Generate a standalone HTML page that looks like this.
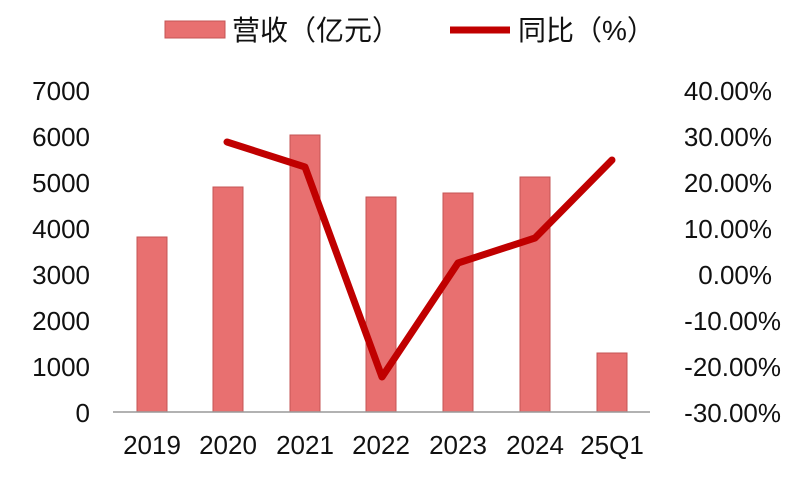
<!DOCTYPE html>
<html><head><meta charset="utf-8"><style>
body{margin:0;background:#fff;width:800px;height:472px;overflow:hidden}
text{font-family:"Liberation Sans","Noto Sans CJK SC",sans-serif;fill:#111}
</style></head><body>
<svg width="800" height="472" xmlns="http://www.w3.org/2000/svg">
<rect x="165" y="21" width="60" height="17" fill="#e87070" stroke="#c45555"/>
<text x="232" y="40" font-size="28">营收（亿元）</text>
<line x1="450" y1="30" x2="510" y2="30" stroke="#c00000" stroke-width="7"/>
<text x="518" y="40" font-size="28">同比（%）</text>
<g font-size="26" text-anchor="end">
<text x="90" y="100">7000</text><text x="90" y="146">6000</text><text x="90" y="192">5000</text>
<text x="90" y="238">4000</text><text x="90" y="284">3000</text><text x="90" y="330">2000</text>
<text x="90" y="376">1000</text><text x="90" y="422">0</text>
</g>
<g font-size="26" text-anchor="end">
<text x="772" y="100">40.00%</text><text x="772" y="146">30.00%</text><text x="772" y="192">20.00%</text>
<text x="772" y="238">10.00%</text><text x="772" y="284">0.00%</text><text x="781" y="330">-10.00%</text>
<text x="781" y="376">-20.00%</text><text x="781" y="422">-30.00%</text>
</g>
<g fill="#e87070" stroke="#c45555" stroke-width="1">
<rect x="137" y="237" width="30" height="175"/>
<rect x="213" y="187" width="30" height="225"/>
<rect x="290" y="135" width="30" height="277"/>
<rect x="366" y="197" width="30" height="215"/>
<rect x="443" y="193" width="30" height="219"/>
<rect x="520" y="177" width="30" height="235"/>
<rect x="597" y="353" width="30" height="59"/>
</g>
<line x1="113" y1="412" x2="650" y2="412" stroke="#999" stroke-width="1.5"/>
<polyline points="227,142 305,167 382,377 458,263 535,238 612,160" fill="none" stroke="#c00000" stroke-width="7" stroke-linejoin="round" stroke-linecap="round"/>
<g font-size="26" text-anchor="middle">
<text x="152" y="454">2019</text><text x="228" y="454">2020</text><text x="305" y="454">2021</text>
<text x="381" y="454">2022</text><text x="458" y="454">2023</text><text x="535" y="454">2024</text>
<text x="612" y="454">25Q1</text>
</g>
</svg>
</body></html>
